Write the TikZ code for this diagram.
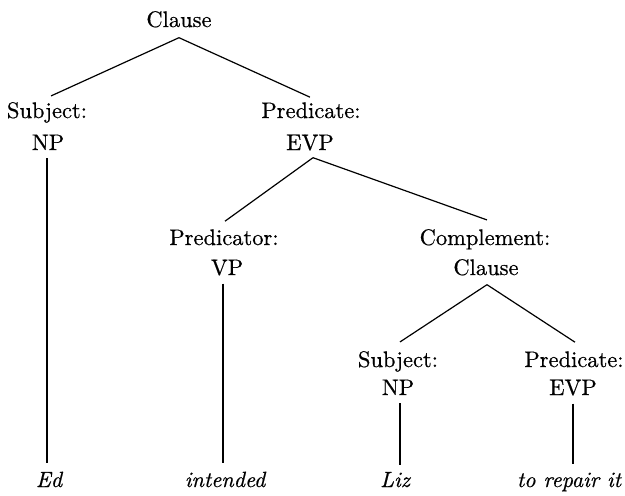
\documentclass[tikz,border=0pt]{standalone}
\usepackage{fontspec}
% slightly heavier strokes for the labels
\setmainfont{lmroman10-regular.otf}[ItalicFont=lmroman10-italic.otf,FakeBold=0.6]
\begin{document}
\begin{tikzpicture}[x=1pt,y=-1pt,
  lbl/.style={inner sep=0pt,anchor=base,font=\fontsize{22.5}{27}\selectfont},
  word/.style={inner sep=0pt,anchor=base,font=\fontsize{22}{26}\selectfont\itshape},
  branch/.style={line width=1.2pt}]
\useasboundingbox (0,0) rectangle (625,496);

% category labels (placed on their baselines)
\node[lbl] (root) at (179,27) {Clause};
\node[lbl] (subjR) at (47,118) {Subject:};
\node[lbl] (subjC) at (48,150) {NP};
\node[lbl] (predR) at (311,118) {Predicate:};
\node[lbl] (predC) at (310,150) {EVP};
\node[lbl] (vR) at (224,245) {Predicator:};
\node[lbl] (vC) at (227,275) {VP};
\node[lbl] (compR) at (485,245) {Complement:};
\node[lbl] (compC) at (486,275) {Clause};
\node[lbl] (subj2R) at (398,367) {Subject:};
\node[lbl] (subj2C) at (398,395) {NP};
\node[lbl] (pred2R) at (574,367) {Predicate:};
\node[lbl] (pred2C) at (573,395) {EVP};

% words
\node[word] (ed) at (49,487) {Ed};
\node[word] (intended) at (225,487) {intended};
\node[word] (liz) at (395,487) {Liz};
\node[word] (repair) at (569,487) {to repair it};

% branches
\draw[branch] ([yshift=-10pt]root.south) -- ([xshift=4pt,yshift=6pt]subjR.north);
\draw[branch] ([yshift=-10pt]root.south) -- ([xshift=-1pt,yshift=5pt]predR.north);
\draw[branch] ([xshift=3pt,yshift=-7pt]predC.south) -- ([xshift=1pt,yshift=8pt]vR.north);
\draw[branch] ([xshift=3pt,yshift=-7pt]predC.south) -- ([xshift=2pt,yshift=9pt]compR.north);
\draw[branch] ([xshift=1pt,yshift=-9pt]compC.south) -- ([xshift=2pt,yshift=9pt]subj2R.north);
\draw[branch] ([xshift=1pt,yshift=-9pt]compC.south) -- ([xshift=1pt,yshift=9pt]pred2R.north);

% single-child stems
\draw[branch] ([xshift=-1pt,yshift=-8pt]subjC.south) -- ([xshift=-2pt,yshift=9pt]ed.north);
\draw[branch] ([xshift=-4pt,yshift=-8pt]vC.south) -- ([xshift=-2pt,yshift=9pt]intended.north);
\draw[branch] ([xshift=2pt,yshift=-8pt]subj2C.south) -- ([xshift=5pt,yshift=7pt]liz.north);
\draw[branch] ([yshift=-8pt]pred2C.south) -- ([xshift=4pt,yshift=8pt]repair.north);
\end{tikzpicture}
\end{document}
